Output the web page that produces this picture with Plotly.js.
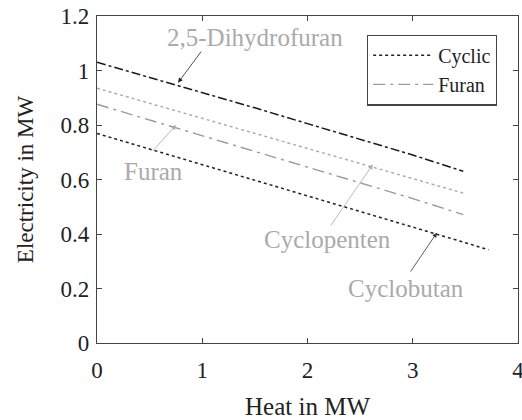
<!DOCTYPE html>
<html><head><meta charset="utf-8">
<script src="https://cdn.plot.ly/plotly-3.0.1.min.js"></script>
<style>
body{margin:0}
#c text{font-family:'Liberation Serif','Times New Roman',serif !important}
</style>
</head><body><div id="c" style="width:522px;height:420px"></div>
<script>
const xA = [0, 0.5, 1, 1.5, 2, 2.5, 3, 3.48];
const xCP = [0, 0.5, 1, 1.5, 2, 2.5, 3, 3.5];
const xCB = [0, 0.5, 1, 1.5, 2, 2.5, 3, 3.5, 3.72];
const dihydrofuran = [1.03, 0.975, 0.92, 0.863, 0.805, 0.748, 0.69, 0.63];
const cyclopenten = [0.935, 0.88, 0.825, 0.77, 0.715, 0.66, 0.604, 0.548];
const furan = [0.876, 0.818, 0.76, 0.702, 0.644, 0.586, 0.53, 0.471];
const cyclobutan = [0.769, 0.712, 0.655, 0.597, 0.54, 0.483, 0.426, 0.368, 0.342];
const xTicks = [0, 1, 2, 3, 4];
const yTicks = [0, 0.2, 0.4, 0.6, 0.8, 1, 1.2];
const yTickText = ['0', '0.2', '0.4', '0.6', '0.8', '1', '1.2'];

const serifFam = 'Liberation Serif';
const traces = [
  {x: xA, y: dihydrofuran, mode: 'lines', name: '2,5-Dihydrofuran', showlegend: false,
   line: {color: '#1a1a1a', width: 1.5, dash: 'dashdot'}},
  {x: xCP, y: cyclopenten, mode: 'lines', name: 'Cyclopenten', showlegend: false,
   line: {color: '#aaaaaa', width: 1.4, dash: 'dot'}},
  {x: xCB, y: cyclobutan, mode: 'lines', name: 'Cyclic',
   line: {color: '#222222', width: 1.5, dash: 'dot'}},
  {x: xA, y: furan, mode: 'lines', name: 'Furan',
   line: {color: '#9a9a9a', width: 1.4, dash: '12px,5px,3px,5px'}}
];

const labels = [
  {t: '2,5-Dihydrofuran', x: 1.5, y: 1.12, tx: 1.0, ty: 1.075, hx: 0.77, hy: 0.955, ac: '#222'},
  {t: 'Furan', x: 0.54, y: 0.63, tx: 0.52, ty: 0.70, hx: 0.75, hy: 0.80, ac: '#aaaaaa'},
  {t: 'Cyclopenten', x: 2.19, y: 0.38, tx: 2.21, ty: 0.425, hx: 2.62, hy: 0.655, ac: '#aaaaaa'},
  {t: 'Cyclobutan', x: 2.94, y: 0.20, tx: 2.97, ty: 0.257, hx: 3.23, hy: 0.405, ac: '#333'}
];
const annotations = [];
labels.forEach(l => {
  annotations.push({x: l.x, y: l.y, xref: 'x', yref: 'y', text: l.t, showarrow: false,
    font: {family: serifFam, size: 25, color: '#aaaaaa'}});
  annotations.push({x: l.hx, y: l.hy, ax: l.tx, ay: l.ty, axref: 'x', ayref: 'y', xref: 'x', yref: 'y',
    text: '', showarrow: true, arrowhead: 2, arrowsize: 1.2, arrowwidth: 0.8, arrowcolor: l.ac});
});

const layout = {
  width: 522, height: 420,
  margin: {l: 97, r: 4, t: 16, b: 77},
  paper_bgcolor: '#fff', plot_bgcolor: '#fff',
  xaxis: {range: [0, 4], tickvals: xTicks, ticks: 'inside', ticklen: 5, tickcolor: '#444',
    showline: true, linecolor: '#444', linewidth: 1.2, mirror: 'ticks', showgrid: false, zeroline: false,
    ticklabeloverflow: 'allow', ticklabelstandoff: 6,
    tickfont: {family: serifFam, size: 23, color: '#222'},
    title: {text: 'Heat in MW', font: {family: serifFam, size: 25, color: '#222'}, standoff: 18}},
  yaxis: {range: [0, 1.2], tickvals: yTicks, ticktext: yTickText, ticks: 'inside', ticklen: 5, tickcolor: '#444',
    showline: true, linecolor: '#444', linewidth: 1.2, mirror: 'ticks', showgrid: false, zeroline: false,
    ticklabelstandoff: 2,
    tickfont: {family: serifFam, size: 23, color: '#222'},
    title: {text: 'Electricity in MW', font: {family: serifFam, size: 23, color: '#222'}, standoff: 20}},
  legend: {x: 0.95, y: 0.943, xanchor: 'right', yanchor: 'top', bgcolor: '#fff',
    bordercolor: '#444', borderwidth: 1.2, font: {family: serifFam, size: 20, color: '#222'},
    tracegroupgap: 0, itemwidth: 60},
  annotations: annotations,
  showlegend: true
};
Plotly.newPlot('c', traces, layout, {displayModeBar: false, staticPlot: true});
</script></body></html>
